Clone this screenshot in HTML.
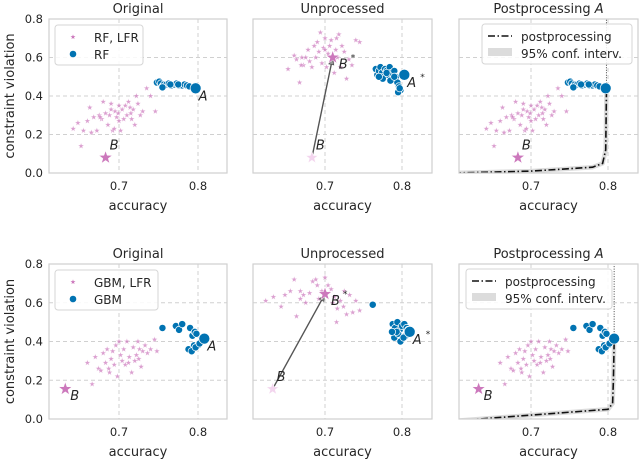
<!DOCTYPE html>
<html><head><meta charset="utf-8"><style>
body{margin:0;background:#fff}
svg{display:block;font-family:"DejaVu Sans","Liberation Sans",sans-serif}
</style></head><body>
<svg id="fig" width="640" height="460" viewBox="0 0 640 460"></svg>
<script>
// ---- data ----
const topOrigPinkAcc=[0.642,0.648,0.652,0.655,0.660,0.663,0.665,0.668,0.672,0.675,0.678,0.680,0.683,0.686,0.688,0.690,0.692,0.694,0.695,0.697,0.699,0.700,0.702,0.704,0.706,0.708,0.710,0.712,0.714,0.716,0.718,0.720,0.722,0.724,0.727,0.730,0.735,0.740,0.746,0.700,0.690,0.715,0.676];
const topOrigPinkCv=[0.23,0.26,0.14,0.22,0.27,0.34,0.21,0.29,0.22,0.30,0.28,0.37,0.31,0.25,0.30,0.36,0.22,0.23,0.32,0.29,0.31,0.35,0.22,0.33,0.28,0.35,0.30,0.37,0.34,0.28,0.33,0.25,0.40,0.36,0.30,0.32,0.44,0.40,0.32,0.27,0.33,0.31,0.29];
const topOrigBlueAcc=[0.748,0.751,0.753,0.755,0.757,0.760,0.763,0.766,0.770,0.773,0.776,0.780,0.783,0.786,0.789,0.755,0.765,0.775];
const topOrigBlueCv=[0.47,0.475,0.465,0.45,0.46,0.46,0.465,0.455,0.46,0.465,0.455,0.455,0.46,0.455,0.45,0.445,0.46,0.46];
const topA=[0.797,0.44], topB=[0.683,0.08];
const topUnPinkAcc=[0.652,0.660,0.663,0.667,0.670,0.672,0.675,0.678,0.680,0.683,0.686,0.688,0.690,0.692,0.694,0.696,0.698,0.700,0.702,0.704,0.706,0.708,0.710,0.712,0.714,0.716,0.718,0.720,0.722,0.725,0.728,0.731,0.735,0.740,0.745,0.669,0.700,0.715];
const topUnPinkCv=[0.54,0.61,0.59,0.47,0.60,0.56,0.60,0.64,0.58,0.55,0.66,0.60,0.68,0.63,0.73,0.57,0.65,0.70,0.55,0.62,0.66,0.69,0.58,0.52,0.64,0.60,0.72,0.55,0.66,0.63,0.49,0.59,0.56,0.69,0.68,0.56,0.64,0.70];
const topUnBlueAcc=[0.766,0.768,0.770,0.772,0.774,0.776,0.778,0.780,0.782,0.784,0.786,0.788,0.790,0.792,0.794,0.796,0.798,0.775,0.785,0.795,0.770,0.780,0.790,0.797];
const topUnBlueCv=[0.54,0.51,0.53,0.55,0.52,0.50,0.54,0.53,0.51,0.55,0.52,0.49,0.53,0.50,0.47,0.45,0.43,0.49,0.48,0.42,0.50,0.52,0.50,0.44];
const topAstar=[0.803,0.51], topBstar=[0.710,0.60];
const topCurveAcc=[0.600,0.70,0.78,0.793,0.797,0.798];
const topCurveCv=[0.0,0.01,0.03,0.05,0.12,0.44];
const botOrigPinkAcc=[0.660,0.666,0.670,0.674,0.677,0.680,0.683,0.685,0.688,0.690,0.692,0.694,0.696,0.698,0.700,0.702,0.704,0.706,0.708,0.710,0.713,0.716,0.718,0.720,0.722,0.724,0.726,0.728,0.730,0.733,0.736,0.740,0.745,0.748,0.687,0.712,0.725];
const botOrigPinkCv=[0.29,0.18,0.32,0.26,0.25,0.34,0.29,0.36,0.24,0.31,0.35,0.28,0.38,0.22,0.40,0.33,0.30,0.36,0.28,0.40,0.32,0.24,0.37,0.30,0.33,0.40,0.36,0.27,0.35,0.38,0.34,0.36,0.41,0.35,0.26,0.29,0.31];
const botOrigBlueAcc=[0.755,0.772,0.776,0.780,0.790,0.793,0.796,0.798,0.790,0.795,0.800,0.788,0.792,0.797,0.802];
const botOrigBlueCv=[0.47,0.48,0.46,0.49,0.47,0.43,0.45,0.44,0.36,0.38,0.38,0.36,0.35,0.37,0.39];
const botA=[0.808,0.415], botB=[0.632,0.155];
const botUnPinkAcc=[0.623,0.633,0.643,0.648,0.655,0.660,0.663,0.668,0.672,0.675,0.680,0.684,0.688,0.692,0.696,0.700,0.704,0.708,0.712,0.716,0.720,0.724,0.728,0.732,0.736,0.740,0.745,0.668,0.690,0.710,0.725,0.715];
const botUnPinkCv=[0.61,0.63,0.58,0.64,0.66,0.72,0.53,0.66,0.64,0.60,0.65,0.71,0.72,0.62,0.66,0.73,0.69,0.67,0.63,0.57,0.61,0.58,0.54,0.64,0.55,0.61,0.56,0.62,0.69,0.60,0.66,0.50];
const botUnBlueAcc=[0.762,0.788,0.791,0.794,0.797,0.800,0.803,0.806,0.790,0.795,0.800,0.805,0.793,0.798,0.802,0.787,0.808];
const botUnBlueCv=[0.59,0.49,0.47,0.50,0.46,0.48,0.49,0.47,0.42,0.44,0.41,0.43,0.45,0.40,0.42,0.45,0.46];
const botAstar=[0.810,0.45], botBstar=[0.700,0.645];
const botCurveAcc=[0.600,0.70,0.80,0.806,0.807,0.808];
const botCurveCv=[-0.01,0.02,0.05,0.08,0.20,0.41];
const yTicks=[0.0,0.2,0.4,0.6,0.8];
const xTicks=[0.7,0.8];

const PINK="#cc78bc", BLUE="#0173b2";
const NS="http://www.w3.org/2000/svg";
const svg=document.getElementById('fig');
function el(tag,attrs,parent){const e=document.createElementNS(NS,tag);for(const k in attrs)e.setAttribute(k,attrs[k]);(parent||svg).appendChild(e);return e;}
function starPath(cx,cy,r){let d="";for(let i=0;i<10;i++){const rr=i%2?r*0.4:r;const a=-Math.PI/2+i*Math.PI/5;d+=(i?"L":"M")+(cx+rr*Math.cos(a)).toFixed(2)+","+(cy+rr*Math.sin(a)).toFixed(2);}return d+"Z";}
let clipId=0;
function panel(cfg){
  const g=el('g',{});
  
  
  const X=v=>cfg.x07+(v-0.7)*cfg.k;
  const Y=v=>cfg.bottom-(v/0.8)*(cfg.bottom-cfg.top);
  const cid='clip'+(clipId++);
  const cp=el('clipPath',{id:cid},g);
  el('rect',{x:cfg.left,y:cfg.top,width:cfg.right-cfg.left,height:cfg.bottom-cfg.top},cp);
  for(const t of yTicks){
    if(t>0&&t<0.8){const l=el('line',{x1:cfg.left,x2:cfg.right,y1:Y(t),y2:Y(t),stroke:"#d0d0d0","stroke-dasharray":"4,3","stroke-width":1},g);}
    if(cfg.yLabels){const tx=el('text',{x:cfg.left-6,y:Y(t)+4,"text-anchor":"end","font-size":11.5,fill:"#262626"},g);tx.textContent=t.toFixed(1);}
  }
  for(const t of xTicks){
    const l=el('line',{x1:X(t),x2:X(t),y1:cfg.top,y2:cfg.bottom,stroke:"#d0d0d0","stroke-dasharray":"4,3","stroke-width":1},g);
    
    const tx=el('text',{x:X(t),y:cfg.bottom+17,"text-anchor":"middle","font-size":11.5,fill:"#262626"},g);tx.textContent=t.toFixed(1);
    
  }
  if(cfg.curveAcc){
    const cg=el('g',{"clip-path":`url(#${cid})`},g);
    const pts=cfg.curveAcc.map((a,i)=>X(a).toFixed(1)+","+Y(cfg.curveCv[i]).toFixed(1)).join(" ");
    const band=el('polyline',{points:pts,fill:"none",stroke:"#dcdcdc","stroke-width":4.5,"stroke-linejoin":"round"},cg);
    
    const ln=el('polyline',{points:pts,fill:"none",stroke:"#111","stroke-width":1.6,"stroke-dasharray":"7,2.5,1.5,2.5"},cg);
    
    const last=cfg.curveAcc.length-1;
    const dl=el('line',{x1:X(cfg.curveAcc[last]),x2:X(cfg.curveAcc[last]),y1:Y(cfg.curveCv[last]),y2:cfg.top,stroke:"#444","stroke-width":1,"stroke-dasharray":"1,1.5"},cg);
    
  }
  cfg.pinkAcc.forEach((a,i)=>{const p=el('path',{d:starPath(X(a),Y(cfg.pinkCv[i]),3.2),fill:PINK,"fill-opacity":0.7,stroke:"#fff","stroke-width":0.3},g);
    });
  cfg.blueAcc.forEach((a,i)=>{const c=el('circle',{cx:X(a),cy:Y(cfg.blueCv[i]),r:3.6,fill:BLUE,stroke:"#fff","stroke-width":0.7},g);
    });
  if(cfg.Bstar){
    const x1=X(cfg.B[0]),y1=Y(cfg.B[1]),x2=X(cfg.Bstar[0]),y2=Y(cfg.Bstar[1]);
    const ang=Math.atan2(y2-y1,x2-x1),ex=x2-6*Math.cos(ang),ey=y2-6*Math.sin(ang);
    const ar=el('line',{x1:x1,y1:y1,x2:ex,y2:ey,stroke:"#555","stroke-width":1.4},g);
    
    const hx=ex,hy=ey,s=5;
    el('path',{d:`M${x2-1*Math.cos(ang)},${y2-1*Math.sin(ang)} L${hx+s*0.5*Math.sin(ang)-s*Math.cos(ang)*0.2},${hy-s*0.5*Math.cos(ang)-s*Math.sin(ang)*0.2} L${hx-s*0.5*Math.sin(ang)-s*Math.cos(ang)*0.2},${hy+s*0.5*Math.cos(ang)-s*Math.sin(ang)*0.2}Z`,fill:"#999",stroke:"#555","stroke-width":0.8},g);
    const bs=el('path',{d:starPath(X(cfg.B[0]),Y(cfg.B[1]),6.5),fill:"#f3d5ee",stroke:"#fff","stroke-width":0.5},g);
    
    const b2=el('path',{d:starPath(x2,y2,7),fill:PINK,stroke:"#fff","stroke-width":0.5},g);
    
    const t=el('text',{x:x2+6,y:y2+11,"font-size":13,"font-style":"italic",fill:"#262626"},g);t.textContent="B";
    const t2=el('text',{x:x2+18,y:y2+3,"font-size":9,fill:"#262626"},g);t2.textContent="*";
  } else {
    const b=el('path',{d:starPath(X(cfg.B[0]),Y(cfg.B[1]),7),fill:PINK,stroke:"#fff","stroke-width":0.5},g);
    
  }
  const bl=el('text',{x:X(cfg.B[0])+(cfg.Bstar?4:(cfg.bRight?5:4)),y:Y(cfg.B[1])+(cfg.bRight?11:-8),"font-size":13,"font-style":"italic",fill:"#262626"},g);bl.textContent="B";
  const Ap=cfg.Astar||cfg.A;
  const ac=el('circle',{cx:X(Ap[0]),cy:Y(Ap[1]),r:5.5,fill:BLUE,stroke:"#fff","stroke-width":0.7},g);
  
  if(cfg.showA){const at=el('text',{x:X(Ap[0])+3,y:Y(Ap[1])+12,"font-size":13,"font-style":"italic",fill:"#262626"},g);at.textContent="A";
    if(cfg.Astar){const s=el('text',{x:X(Ap[0])+16,y:Y(Ap[1])+5,"font-size":9,fill:"#262626"},g);s.textContent="*";}}
  const fr=el('rect',{x:cfg.left,y:cfg.top,width:cfg.right-cfg.left,height:cfg.bottom-cfg.top,fill:"none",stroke:"#cfcfcf","stroke-width":1.2},g);
  
  const tt=el('text',{x:(cfg.left+cfg.right)/2,y:cfg.top-6,"text-anchor":"middle","font-size":13,fill:"#262626"},g);
  tt.innerHTML=cfg.title;
  const xl=el('text',{x:(cfg.left+cfg.right)/2,y:cfg.bottom+37,"text-anchor":"middle","font-size":13,fill:"#262626"},g);
  xl.textContent="accuracy";
  if(cfg.yLabels){const yl=el('text',{x:0,y:0,transform:`translate(14,${(cfg.top+cfg.bottom)/2}) rotate(-90)`,"text-anchor":"middle","font-size":13,fill:"#262626"},g);
    yl.textContent="constraint violation";}
  if(cfg.legend){
    const L=cfg.legend;const lg=el('g',{},g);
    el('rect',{x:L.x,y:L.y,width:L.w,height:40,rx:3,fill:"#fff","fill-opacity":0.85,stroke:"#d6d6d6"},lg);
    if(L.type==='pts'){
      el('path',{d:starPath(L.x+18,L.y+12,2.6),fill:PINK},lg);
      el('circle',{cx:L.x+18,cy:L.y+29,r:3.3,fill:BLUE},lg);
      const a=el('text',{x:L.x+39,y:L.y+17,"font-size":12,fill:"#262626"},lg);a.textContent=L.l1;
      const b=el('text',{x:L.x+39,y:L.y+34,"font-size":12,fill:"#262626"},lg);b.textContent=L.l2;
    } else {
      el('line',{x1:L.x+6,x2:L.x+30,y1:L.y+12,y2:L.y+12,stroke:"#111","stroke-width":1.6,"stroke-dasharray":"7,2.5,1.5,2.5"},lg);
      el('rect',{x:L.x+6,y:L.y+24,width:24,height:8,fill:"#dcdcdc"},lg);
      const a=el('text',{x:L.x+39,y:L.y+17,"font-size":12,fill:"#262626"},lg);a.textContent="postprocessing";
      const b=el('text',{x:L.x+39,y:L.y+34,"font-size":12,fill:"#262626"},lg);b.textContent="95% conf. interv.";
    }
  }
}
const rows=[
 {top:19,bottom:173,oPA:topOrigPinkAcc,oPC:topOrigPinkCv,oBA:topOrigBlueAcc,oBC:topOrigBlueCv,A:topA,B:topB,uPA:topUnPinkAcc,uPC:topUnPinkCv,uBA:topUnBlueAcc,uBC:topUnBlueCv,As:topAstar,Bs:topBstar,cA:topCurveAcc,cC:topCurveCv,l1:"RF, LFR",l2:"RF",lw:88,bRight:false,ly:25},
 {top:264,bottom:419,oPA:botOrigPinkAcc,oPC:botOrigPinkCv,oBA:botOrigBlueAcc,oBC:botOrigBlueCv,A:botA,B:botB,uPA:botUnPinkAcc,uPC:botUnPinkCv,uBA:botUnBlueAcc,uBC:botUnBlueCv,As:botAstar,Bs:botBstar,cA:botCurveAcc,cC:botCurveCv,l1:"GBM, LFR",l2:"GBM",lw:103,bRight:true,ly:270}
];
rows.forEach((r,i)=>{
  panel({name:(i?'bottom':'top')+'-original-panel',left:49,right:227,x07:119,k:790,top:r.top,bottom:r.bottom,title:"Original",yLabels:true,
    pinkAcc:r.oPA,pinkCv:r.oPC,blueAcc:r.oBA,blueCv:r.oBC,A:r.A,B:r.B,showA:true,bRight:r.bRight,legend:{type:'pts',x:55,y:r.ly,w:r.lw,l1:r.l1,l2:r.l2}});
  panel({name:(i?'bottom':'top')+'-unprocessed-panel',left:253,right:432,x07:325,k:770,top:r.top,bottom:r.bottom,title:"Unprocessed",
    pinkAcc:r.uPA,pinkCv:r.uPC,blueAcc:r.uBA,blueCv:r.uBC,A:r.A,Astar:r.As,B:r.B,Bstar:r.Bs,showA:true});
  panel({name:(i?'bottom':'top')+'-postprocessing-panel',left:459,right:638,x07:531,k:770,top:r.top,bottom:r.bottom,title:'Postprocessing <tspan font-style="italic">A</tspan>',
    pinkAcc:r.oPA,pinkCv:r.oPC,blueAcc:r.oBA,blueCv:r.oBC,A:r.A,B:r.B,showA:false,bRight:r.bRight,curveAcc:r.cA,curveCv:r.cC,
    legend:{type:'line',x:i?466:482,y:r.ly-1,w:i?146:150}});
});
</script>
</body></html>
